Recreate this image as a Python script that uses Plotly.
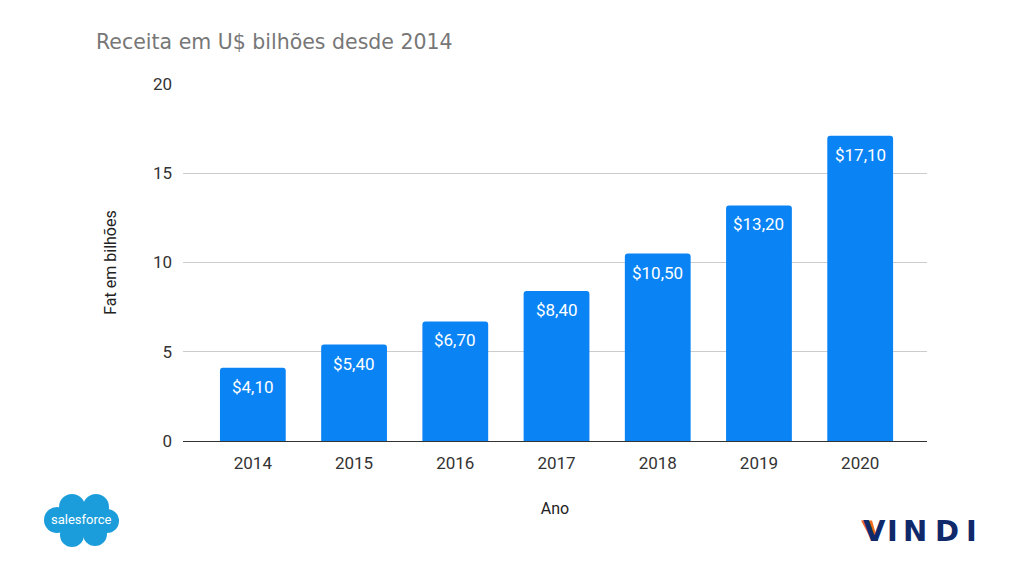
import plotly.graph_objects as go

years = ["2014", "2015", "2016", "2017", "2018", "2019", "2020"]
revenue = [4.10, 5.40, 6.70, 8.40, 10.50, 13.20, 17.10]
labels = ["$4,10", "$5,40", "$6,70", "$8,40", "$10,50", "$13,20", "$17,10"]
y_ticks = [0, 5, 10, 15, 20]

W, H = 1024, 576
L, R, T, B = 183, 97, 84, 135
PW, PH = W - L - R, H - T - B


def px(x):
    return (x - L) / PW


def py(y):
    return (H - B - y) / PH


FONT = "Roboto, Arial, sans-serif"

fig = go.Figure()
fig.add_trace(go.Bar(
    x=years, y=revenue,
    marker=dict(color="#0a84f5", cornerradius=3, line=dict(width=0)),
    width=0.65,
))
# data labels: category index on the category axis, value on the y axis
for i, (v, lab) in enumerate(zip(revenue, labels)):
    fig.add_annotation(x=i, y=v, xref="x", yref="y", text=lab, showarrow=False,
                       xanchor="center", yanchor="middle",
                       yshift=-19, font=dict(color="white", size=17, family=FONT))

fig.update_layout(
    width=W, height=H,
    paper_bgcolor="white", plot_bgcolor="white",
    margin=dict(l=L, r=R, t=T, b=B, autoexpand=False),
    showlegend=False,
    title=dict(text="Receita em U$ bilhões desde 2014", x=96/W, xanchor="left",
               y=1-42/H, yanchor="middle",
               font=dict(family="DejaVu Sans, Verdana, sans-serif", size=20.5, color="#777777")),
    xaxis=dict(type="category", range=[-0.69, 6.66], showgrid=False,
               showline=False, ticks="", ticklabelstandoff=10,
               tickfont=dict(family=FONT, size=17, color="#333333"),
               title=dict(text="Ano", font=dict(family=FONT, size=16, color="#222222"), standoff=30)),
    yaxis=dict(range=[0, 20], tickvals=y_ticks, showgrid=True, gridcolor="#cccccc", gridwidth=1,
               zeroline=True, zerolinecolor="#333333", zerolinewidth=1, showline=False,
               ticks="", ticklabelstandoff=10,
               tickfont=dict(family=FONT, size=17, color="#333333"),
               title=dict(text="Fat em bilhões", font=dict(family=FONT, size=16, color="#222222"), standoff=32)),
)

# salesforce cloud logo
cloud = "#1b9ddb"
for cx, cy, r in [(57, 520, 13), (72, 507, 13), (96, 507, 13), (107, 521, 12),
                  (95, 534, 12), (72, 535, 12), (84, 520, 16)]:
    fig.add_shape(type="circle", xref="paper", yref="paper",
                  x0=px(cx - r), x1=px(cx + r), y0=py(cy + r), y1=py(cy - r),
                  fillcolor=cloud, line=dict(width=0), layer="below")
fig.add_annotation(text="salesforce", xref="paper", yref="paper", x=px(81), y=py(519),
                   xanchor="center", yanchor="middle",
                   showarrow=False, font=dict(family=FONT, size=13, color="white"))

# VINDI logo
navy = "#10296b"
for ch, cx in [("V", 874), ("I", 892), ("N", 915), ("D", 947), ("I", 971)]:
    fig.add_annotation(text="<b>" + ch + "</b>", xref="paper", yref="paper", x=px(cx), y=py(531),
                       xanchor="center", yanchor="middle",
                       showarrow=False, font=dict(family="DejaVu Sans, Arial, sans-serif", size=29, color=navy))
fig.add_shape(type="path", xref="paper", yref="paper",
              path="M {:.4f},{:.4f} L {:.4f},{:.4f} L {:.4f},{:.4f} L {:.4f},{:.4f} Z".format(
                  px(861), py(520.5), px(872), py(520.5), px(878), py(541), px(872), py(541)),
              fillcolor="#f26a1b", line=dict(width=0), layer="above")

fig.write_html("out.html", config={"displayModeBar": False},
               post_script="document.body.style.margin='0';document.body.style.overflow='hidden';")
